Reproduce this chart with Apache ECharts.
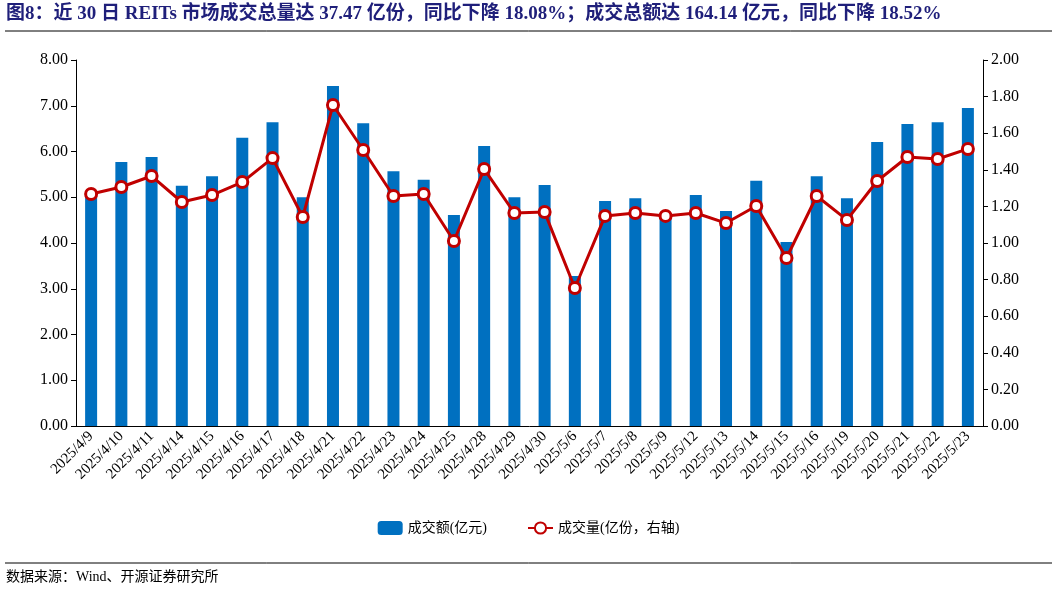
<!DOCTYPE html><html><head><meta charset="utf-8"><script src="https://cdn.jsdelivr.net/npm/echarts@6/dist/echarts.min.js"></script>
<style>body{margin:0;background:#fff}#c{width:1057px;height:592px}</style></head><body><div id="c"></div><script>
const categories=["2025/4/9","2025/4/10","2025/4/11","2025/4/14","2025/4/15","2025/4/16","2025/4/17","2025/4/18","2025/4/21","2025/4/22","2025/4/23","2025/4/24","2025/4/25","2025/4/28","2025/4/29","2025/4/30","2025/5/6","2025/5/7","2025/5/8","2025/5/9","2025/5/12","2025/5/13","2025/5/14","2025/5/15","2025/5/16","2025/5/19","2025/5/20","2025/5/21","2025/5/22","2025/5/23"];
const amount=[5.03,5.77,5.88,5.25,5.46,6.30,6.64,5.00,7.43,6.62,5.57,5.38,4.61,6.12,5.00,5.27,3.28,4.92,4.98,4.60,5.05,4.70,5.36,4.02,5.46,4.98,6.21,6.60,6.64,6.95];
const volume=[1.268,1.306,1.366,1.224,1.262,1.333,1.464,1.142,1.754,1.508,1.257,1.268,1.011,1.404,1.164,1.169,0.754,1.148,1.164,1.148,1.164,1.109,1.202,0.918,1.257,1.126,1.339,1.470,1.459,1.514];
const ch=echarts.init(document.getElementById('c'));
const ff='"Liberation Serif","Noto Sans CJK SC",serif';
ch.setOption({
 graphic:[
  {type:'text',left:6,top:5,style:{text:'图8：近 30 日 REITs 市场成交总量达 37.47 亿份，同比下降 18.08%；成交总额达 164.14 亿元，同比下降 18.52%',font:'bold 19px '+ff,fill:'#1F1F7A'}},
  {type:'line',shape:{x1:5,y1:31,x2:1052,y2:31},style:{stroke:'#000',lineWidth:1}},
  {type:'line',shape:{x1:5,y1:563,x2:1052,y2:563},style:{stroke:'#000',lineWidth:1}},
  {type:'text',left:6,top:570,style:{text:'数据来源：Wind、开源证券研究所',font:'14px '+ff,fill:'#000'}}
 ],
 legend:{bottom:52,itemGap:40,textStyle:{fontFamily:ff,fontSize:14,color:'#000'},data:['成交额(亿元)','成交量(亿份，右轴)']},
 grid:{left:76,right:74,top:60,bottom:166},
 xAxis:{type:'category',data:categories,axisTick:{show:false},axisLine:{lineStyle:{color:'#000'}},
  axisLabel:{rotate:45,interval:0,color:'#000',fontFamily:ff,fontSize:15}},
 yAxis:[
  {type:'value',min:0,max:8,interval:1,splitLine:{show:false},axisLine:{show:true,lineStyle:{color:'#000'}},axisTick:{show:true},
   axisLabel:{formatter:v=>v.toFixed(2),color:'#000',fontFamily:ff,fontSize:16}},
  {type:'value',min:0,max:2,interval:0.2,splitLine:{show:false},axisLine:{show:true,lineStyle:{color:'#000'}},axisTick:{show:true},
   axisLabel:{formatter:v=>v.toFixed(2),color:'#000',fontFamily:ff,fontSize:16}}
 ],
 series:[
  {name:'成交额(亿元)',type:'bar',data:amount,barWidth:12,itemStyle:{color:'#0070C0'}},
  {name:'成交量(亿份，右轴)',type:'line',yAxisIndex:1,data:volume,symbol:'circle',symbolSize:11,
   lineStyle:{color:'#C00000',width:3},itemStyle:{color:'#fff',borderColor:'#C00000',borderWidth:3}}
 ]
});
</script></body></html>
